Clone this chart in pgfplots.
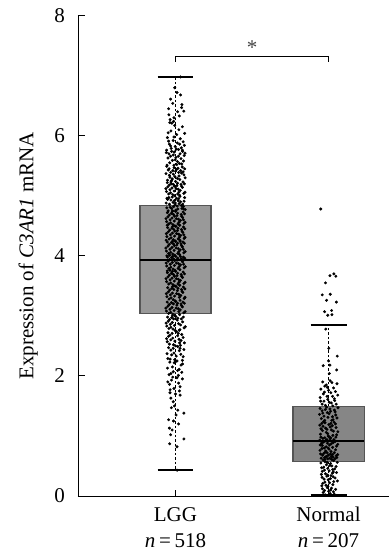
\documentclass[border=0pt]{standalone}
\usepackage{pgfplots}
\pgfplotsset{compat=1.18}
\usepgfplotslibrary{statistics}
\usepackage{fontspec}
\setmainfont{Liberation Serif}
\definecolor{boxA}{HTML}{999999}
\definecolor{boxB}{HTML}{868686}
\definecolor{boxedge}{HTML}{555555}
\definecolor{stargray}{HTML}{444444}
\newcommand{\lf}{\fontsize{21bp}{26bp}\selectfont}
\begin{document}
\begin{tikzpicture}
\begin{axis}[
 at={(0,0)}, anchor=south west,
 scale only axis, width=311bp, height=480.3bp,
 xmin=0.363, xmax=2.395, ymin=0, ymax=8,
 axis x line*=bottom, axis y line*=left,
 axis line style={line width=0.9bp, black},
 xtick={1,2},
 xticklabels={{LGG\\\textit{n}\hspace{0.18em}=\hspace{0.18em}518},{Normal\\\textit{n}\hspace{0.18em}=\hspace{0.18em}207}},
 ytick={0,2,4,6,8},
 yticklabels={0,2,4,6,8},
 tick align=inside, major tick length=6.5bp,
 tick style={line width=0.9bp, black},
 /pgf/number format/assume math mode=true,
 yticklabel style={font=\lf, inner sep=0pt, xshift=-13bp},
 xticklabel style={font=\lf, align=center, inner sep=0pt, anchor=north, yshift=-11bp},
 ylabel={Expression of \textit{C3AR1} mRNA},
 ylabel style={font=\lf, inner sep=0pt, at={(axis description cs:-0.1286,0.5)}, anchor=south},
 clip=false,
]
% boxes
\addplot[draw=boxedge, boxplot prepared={draw direction=y, median=3.93, upper quartile=4.835, lower quartile=3.04, upper whisker=6.98, lower whisker=0.43, draw position=1, box extend=0.464, whisker extend=0,
  every box/.style={fill=boxA, draw=boxedge, line width=1.1bp},
  every median/.style={line width=2bp, black},
  every whisker/.style={black, line width=0.7bp, dash pattern=on 2.5bp off 2bp}}] coordinates {};
\addplot[draw=boxedge, boxplot prepared={draw direction=y, median=0.91, upper quartile=1.49, lower quartile=0.58, upper whisker=2.85, lower whisker=0.02, draw position=2, box extend=0.464, whisker extend=0,
  every box/.style={fill=boxB, draw=boxedge, line width=1.1bp},
  every median/.style={line width=2bp, black},
  every whisker/.style={black, line width=0.7bp, dash pattern=on 2.5bp off 2bp}}] coordinates {};
% whisker caps
\addplot[black, line width=2.2bp] coordinates {(0.8825,6.98) (1.1175,6.98)};
\addplot[black, line width=2.2bp] coordinates {(0.8825,0.43) (1.1175,0.43)};
\addplot[black, line width=2.2bp] coordinates {(1.8825,2.85) (2.1175,2.85)};
\addplot[black, line width=2.2bp] coordinates {(1.8825,0.02) (2.1175,0.02)};
% LGG points
\addplot[only marks, mark=*, mark size=1.3bp, black] coordinates {
(1.033,6.98)(0.995,6.80)
(1.033,6.68)(0.968,6.61)(0.982,6.54)(1.042,6.52)(1.010,6.72)
(0.955,6.45)(1.040,6.47)(0.957,6.35)(1.014,6.40)(1.054,6.41)(0.990,6.30)(0.965,6.27)(1.025,6.33)
(0.963,6.22)(0.976,6.21)(0.988,6.24)(1.022,6.10)(1.045,6.15)(0.952,6.05)(1.008,6.02)(0.995,6.17)(1.060,6.04)(0.970,6.08)
(0.947,5.97)(1.031,5.95)(0.985,5.92)(1.012,5.88)(0.960,5.86)(1.050,5.90)(0.998,5.82)(0.972,5.79)(1.038,5.80)(0.942,5.76)(1.020,5.77)(1.058,5.84)(0.990,5.98)(0.955,5.91)(1.005,5.78)(1.045,5.76)(0.968,5.83)(1.027,5.86)
(0.940,5.72)(0.962,5.55)(0.985,5.68)(1.008,5.52)(1.030,5.70)(1.052,5.58)(0.951,5.63)(0.975,5.74)(0.998,5.60)(1.019,5.66)(1.041,5.53)(1.062,5.71)(0.945,5.51)(0.968,5.66)(0.992,5.73)(1.013,5.57)(1.036,5.62)(1.057,5.67)(0.957,5.70)(0.980,5.59)(1.003,5.64)(1.025,5.54)(1.047,5.74)(0.990,5.51)
(0.938,5.37)(0.958,5.45)(0.979,5.28)(1.001,5.41)(1.023,5.33)(1.044,5.48)(1.063,5.30)(0.948,5.26)(0.969,5.39)(0.991,5.47)(1.012,5.29)(1.034,5.42)(1.055,5.35)(0.943,5.49)(0.964,5.31)(0.986,5.36)(1.007,5.44)(1.028,5.27)(1.050,5.40)(0.953,5.43)(0.974,5.25)(0.996,5.32)(1.017,5.46)(1.039,5.38)(1.060,5.45)(0.960,5.34)(1.021,5.39)(0.983,5.42)
(0.937,5.12)(0.955,5.03)(0.973,5.20)(0.991,5.08)(1.009,5.17)(1.027,5.01)(1.045,5.14)(1.062,5.06)(0.946,5.22)(0.964,5.10)(0.982,5.02)(1.000,5.24)(1.018,5.11)(1.036,5.19)(1.054,5.04)(0.941,5.07)(0.959,5.18)(0.977,5.13)(0.995,5.00)(1.013,5.21)(1.031,5.09)(1.049,5.23)(0.950,5.15)(0.968,5.05)(0.986,5.19)(1.004,5.12)(1.022,5.06)(1.040,5.16)(1.058,5.20)(0.970,5.23)(1.015,5.03)(0.993,5.16)
(0.939,4.88)(0.957,4.97)(0.975,4.79)(0.993,4.92)(1.011,4.83)(1.029,4.99)(1.047,4.86)(1.064,4.77)(0.948,4.94)(0.966,4.81)(0.984,4.89)(1.002,4.76)(1.020,4.95)(1.038,4.84)(1.056,4.91)(0.943,4.80)(0.961,4.86)(0.979,4.98)(0.997,4.85)(1.015,4.78)(1.033,4.90)(1.051,4.82)(0.952,4.75)(0.970,4.93)(0.988,4.82)(1.006,4.96)(1.024,4.87)(1.042,4.79)(1.060,4.97)(0.944,4.96)(0.981,4.75)(1.017,4.92)(1.053,4.78)(0.999,4.88)
(0.938,4.62)(0.956,4.53)(0.974,4.71)(0.992,4.58)(1.010,4.67)(1.028,4.51)(1.046,4.64)(1.063,4.56)(0.947,4.72)(0.965,4.60)(0.983,4.52)(1.001,4.74)(1.019,4.61)(1.037,4.69)(1.055,4.54)(0.942,4.57)(0.960,4.68)(0.978,4.63)(0.996,4.50)(1.014,4.71)(1.032,4.59)(1.050,4.73)(0.951,4.65)(0.969,4.55)(0.987,4.69)(1.005,4.62)(1.023,4.56)(1.041,4.66)(1.059,4.70)(0.946,4.51)(0.980,4.74)(1.016,4.53)(1.052,4.60)(0.994,4.66)
(0.940,4.37)(0.958,4.28)(0.976,4.46)(0.994,4.33)(1.012,4.42)(1.030,4.26)(1.048,4.39)(1.062,4.31)(0.949,4.47)(0.967,4.35)(0.985,4.27)(1.003,4.49)(1.021,4.36)(1.039,4.44)(1.057,4.29)(0.944,4.32)(0.962,4.43)(0.980,4.38)(0.998,4.25)(1.016,4.46)(1.034,4.34)(1.052,4.48)(0.953,4.40)(0.971,4.30)(0.989,4.44)(1.007,4.37)(1.025,4.31)(1.043,4.41)(1.061,4.45)(0.939,4.26)(0.982,4.49)(1.018,4.28)(1.054,4.35)(0.996,4.41)
(0.937,4.13)(0.955,4.04)(0.973,4.22)(0.991,4.09)(1.009,4.18)(1.027,4.02)(1.045,4.15)(1.063,4.07)(0.946,4.23)(0.964,4.11)(0.982,4.03)(1.000,4.24)(1.018,4.12)(1.036,4.20)(1.054,4.05)(0.941,4.08)(0.959,4.19)(0.977,4.14)(0.995,4.01)(1.013,4.21)(1.031,4.10)(1.049,4.23)(0.950,4.16)(0.968,4.06)(0.986,4.20)(1.004,4.13)(1.022,4.07)(1.040,4.17)(1.058,4.21)(0.944,4.00)(0.979,4.24)(1.015,4.04)(1.051,4.11)(0.993,4.17)(0.962,4.01)(1.030,4.24)
(0.939,3.88)(0.957,3.79)(0.975,3.97)(0.993,3.84)(1.011,3.93)(1.029,3.77)(1.047,3.90)(1.064,3.82)(0.948,3.98)(0.966,3.86)(0.984,3.78)(1.002,3.99)(1.020,3.87)(1.038,3.95)(1.056,3.80)(0.943,3.83)(0.961,3.94)(0.979,3.89)(0.997,3.76)(1.015,3.96)(1.033,3.85)(1.051,3.98)(0.952,3.91)(0.970,3.81)(0.988,3.95)(1.006,3.88)(1.024,3.82)(1.042,3.92)(1.060,3.96)(0.946,3.75)(0.981,3.99)(1.017,3.79)(1.053,3.86)(0.995,3.92)(0.964,3.76)(1.032,3.99)
(0.938,3.62)(0.956,3.53)(0.974,3.71)(0.992,3.58)(1.010,3.67)(1.028,3.51)(1.046,3.64)(1.063,3.56)(0.947,3.72)(0.965,3.60)(0.983,3.52)(1.001,3.74)(1.019,3.61)(1.037,3.69)(1.055,3.54)(0.942,3.57)(0.960,3.68)(0.978,3.63)(0.996,3.50)(1.014,3.71)(1.032,3.59)(1.050,3.73)(0.951,3.65)(0.969,3.55)(0.987,3.69)(1.005,3.62)(1.023,3.56)(1.041,3.66)(1.059,3.70)(0.980,3.74)(1.016,3.53)(0.994,3.66)
(0.940,3.37)(0.958,3.28)(0.976,3.46)(0.994,3.33)(1.012,3.42)(1.030,3.26)(1.048,3.39)(1.062,3.31)(0.949,3.47)(0.967,3.35)(0.985,3.27)(1.003,3.49)(1.021,3.36)(1.039,3.44)(1.057,3.29)(0.944,3.32)(0.962,3.43)(0.980,3.38)(0.998,3.25)(1.016,3.46)(1.034,3.34)(1.052,3.48)(0.953,3.40)(0.971,3.30)(0.989,3.44)(1.007,3.37)(1.025,3.31)(1.043,3.41)(1.061,3.45)(0.982,3.49)
(0.937,3.13)(0.955,3.04)(0.973,3.22)(0.991,3.09)(1.009,3.18)(1.027,3.02)(1.045,3.15)(1.063,3.07)(0.946,3.23)(0.964,3.11)(0.982,3.03)(1.000,3.24)(1.018,3.12)(1.036,3.20)(1.054,3.05)(0.941,3.08)(0.959,3.19)(0.977,3.14)(0.995,3.01)(1.013,3.21)(1.031,3.10)(1.049,3.23)(0.950,3.16)(0.968,3.06)(0.986,3.20)(1.004,3.13)(1.022,3.07)(1.040,3.17)(1.058,3.21)(0.979,3.00)
(0.939,2.88)(0.957,2.79)(0.975,2.97)(0.993,2.84)(1.011,2.93)(1.029,2.77)(1.047,2.90)(1.064,2.82)(0.948,2.98)(0.966,2.86)(0.984,2.78)(1.002,2.99)(1.020,2.87)(1.038,2.95)(1.056,2.80)(0.943,2.83)(0.961,2.94)(0.979,2.89)(0.997,2.76)(1.015,2.96)(1.033,2.85)(1.051,2.98)(0.952,2.91)(0.970,2.81)(0.988,2.95)(1.024,2.76)
(0.942,2.62)(0.960,2.53)(0.978,2.71)(0.996,2.58)(1.014,2.67)(1.032,2.51)(1.050,2.64)(0.951,2.72)(0.969,2.60)(0.987,2.52)(1.005,2.74)(1.023,2.61)(1.041,2.69)(1.058,2.55)(0.946,2.57)(0.964,2.68)(0.982,2.63)(1.000,2.50)(1.018,2.71)(1.036,2.59)(0.955,2.66)(1.027,2.55)
(0.945,2.37)(0.965,2.28)(0.985,2.46)(1.005,2.33)(1.025,2.42)(1.045,2.26)(0.955,2.47)(0.975,2.35)(0.995,2.27)(1.015,2.49)(1.035,2.36)(1.055,2.44)(0.950,2.29)(0.970,2.43)(0.990,2.38)(1.010,2.25)(1.030,2.46)(1.050,2.32)
(0.948,2.13)(0.970,2.04)(0.992,2.22)(1.014,2.09)(1.036,2.18)(0.958,2.02)(0.980,2.15)(1.002,2.24)(1.024,2.11)(1.046,2.20)(0.963,2.23)(0.985,2.07)(1.019,2.01)(1.041,2.06)
(0.961,1.86)(0.974,1.93)(1.010,1.97)(0.950,1.90)(1.030,1.82)(0.990,1.79)(1.045,1.95)(0.965,1.77)(1.020,1.88)(0.982,1.98)
(0.964,1.72)(1.026,1.75)(1.030,1.68)(0.970,1.63)(1.000,1.70)(0.985,1.57)
(0.993,1.50)(0.973,1.47)(1.015,1.43)(1.055,1.38)(1.004,1.35)(0.955,1.27)(0.987,1.25)
(0.960,1.13)(0.978,1.10)(0.968,1.02)(1.020,1.20)
(1.055,0.95)(0.962,0.87)(1.010,0.82)(1.010,0.43)
};
% Normal points
\addplot[only marks, mark=*, mark size=1.3bp, black] coordinates {
(1.949,4.78)(2.035,3.70)(2.009,3.67)(2.048,3.66)(1.980,3.55)(1.959,3.35)(2.011,3.36)(1.987,3.26)(2.051,3.23)(1.974,3.07)(2.020,3.09)(1.995,3.01)(2.022,3.02)
(1.982,2.78)(2.002,2.46)(2.057,2.33)(2.000,2.25)(1.965,2.17)(2.009,2.18)(2.053,2.10)(2.005,2.04)
(1.962,1.90)(1.985,1.85)(2.010,1.92)(2.033,1.80)(2.055,1.87)(1.950,1.78)(1.975,1.83)(2.000,1.76)(2.022,1.89)(2.045,1.74)(1.966,1.70)(1.990,1.66)(2.015,1.72)(2.038,1.62)(2.060,1.68)(1.945,1.64)(1.970,1.58)(1.995,1.61)(2.018,1.55)(2.040,1.59)(1.958,1.53)(1.980,1.51)(2.005,1.56)(2.028,1.50)(2.050,1.53)(1.948,1.58)(1.992,1.81)(2.026,1.66)(1.973,1.73)
(1.945,1.46)(1.962,1.38)(1.979,1.44)(1.996,1.31)(2.013,1.41)(2.030,1.27)(2.047,1.35)(2.062,1.47)(1.953,1.29)(1.970,1.33)(1.987,1.48)(2.004,1.37)(2.021,1.26)(2.038,1.43)(2.055,1.30)(1.941,1.36)(1.958,1.42)(1.975,1.26)(1.992,1.39)(2.009,1.45)(2.026,1.32)(2.043,1.40)
(1.943,1.18)(1.960,1.09)(1.977,1.22)(1.994,1.04)(2.011,1.15)(2.028,1.01)(2.045,1.20)(2.061,1.07)(1.951,1.12)(1.968,1.24)(1.985,1.06)(2.002,1.19)(2.019,1.10)(2.036,1.23)(2.053,1.02)(1.947,1.03)(1.964,1.16)(1.981,1.13)(1.998,1.00)(2.015,1.21)(2.032,1.08)(2.049,1.14)(1.956,1.21)(1.990,1.11)(2.024,1.17)
(1.942,0.93)(1.959,0.84)(1.976,0.97)(1.993,0.88)(2.010,0.95)(2.027,0.81)(2.044,0.91)(2.060,0.86)(1.950,0.98)(1.967,0.90)(1.984,0.82)(2.001,0.99)(2.018,0.87)(2.035,0.94)(2.052,0.83)(1.946,0.85)(1.963,0.96)(1.980,0.92)(1.997,0.80)(2.014,0.97)(2.031,0.89)(2.048,0.98)(1.955,0.88)(1.972,0.80)(1.989,0.94)(2.006,0.85)
(1.944,0.76)(1.961,0.68)(1.978,0.73)(1.995,0.62)(2.012,0.70)(2.029,0.65)(2.046,0.77)(2.060,0.69)(1.952,0.63)(1.969,0.71)(1.986,0.66)(2.003,0.78)(2.020,0.61)(2.037,0.72)(2.054,0.64)(1.948,0.70)(1.965,0.60)(1.982,0.75)(1.999,0.68)(2.016,0.74)(2.033,0.59)(2.050,0.67)(1.957,0.79)(1.974,0.64)(1.991,0.72)(2.008,0.63)(2.025,0.69)(2.042,0.62)(1.977,0.61)(2.018,0.66)
(1.950,0.55)(1.968,0.48)(1.986,0.52)(2.004,0.42)(2.022,0.50)(2.040,0.45)(2.057,0.56)(1.959,0.41)(1.977,0.57)(1.995,0.46)(2.013,0.54)(2.031,0.40)(2.049,0.49)(1.955,0.47)(1.973,0.43)(1.991,0.56)(2.009,0.51)(2.027,0.44)
(1.953,0.36)(1.971,0.28)(1.989,0.33)(2.007,0.22)(2.025,0.38)(2.043,0.30)(2.058,0.25)(1.962,0.21)(1.980,0.37)(1.998,0.27)(2.016,0.34)(2.034,0.24)(2.052,0.39)(1.958,0.31)(1.976,0.23)(1.994,0.35)(2.012,0.29)(2.030,0.32)
(1.956,0.17)(1.974,0.09)(1.992,0.14)(2.010,0.04)(2.028,0.19)(2.046,0.11)(1.965,0.06)(1.983,0.18)(2.001,0.08)(2.019,0.13)(2.037,0.03)(1.960,0.12)(1.978,0.02)(1.996,0.16)(2.014,0.10)(2.032,0.07)
};
% significance bracket
\addplot[black, line width=0.8bp] coordinates {(1,7.23) (1,7.33) (2,7.33) (2,7.23)};
\node[text=stargray, font=\fontsize{21bp}{24bp}\selectfont, inner sep=0pt] at (axis cs:1.5,7.47) {*};
\end{axis}
\pgfresetboundingbox
\path[use as bounding box] (-78bp,-55bp) rectangle (311bp,496bp);
\end{tikzpicture}
\end{document}
